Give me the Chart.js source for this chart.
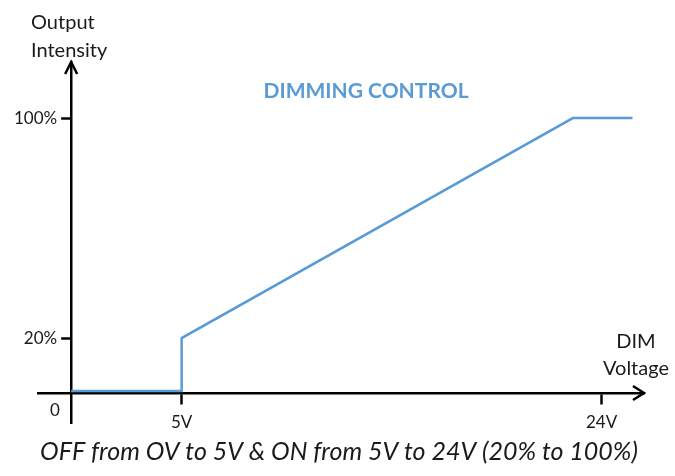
<!DOCTYPE html>
<html>
<head>
<meta charset="utf-8">
<script src="https://cdn.jsdelivr.net/npm/chart.js@4"></script>
<style>
  html, body { margin: 0; padding: 0; background: #fff; }
  #wrap { width: 675px; height: 476px; }
</style>
</head>
<body>
<div id="wrap"><canvas id="chart" width="675" height="476"></canvas></div>
<script>
// dim voltage (V) against output intensity (%)
const voltage = [0, 5, 5, 22.7, 25.4];
const intensity = [0.7, 0.7, 20, 100, 100];

const xTickValues = [5, 24];
const xTickLabels = ['5V', '24V'];
const yTickValues = [20, 100];
const yTickLabels = ['20%', '100%'];

const chartTitle = 'DIMMING CONTROL';
const yTitle = ['Output', 'Intensity'];
const xTitle = ['DIM', 'Voltage'];
const originLabel = '0';
const caption = 'OFF from OV to 5V & ON from 5V to 24V (20% to 100%)';

const blue = '#5b9bd5';
const ink = '#1a1a1a';

const points = voltage.map((v, i) => ({ x: v, y: intensity[i] }));

// move the y axis onto x = 0 so the x axis can run a little past it on the left
const yAtZero = {
    id: 'yAtZero',
    afterLayout(chart) {
        const px = chart.scales.x.getPixelForValue(0);
        chart.scales.y.left = 0;
        chart.scales.y.right = px;
    }
};

// arrows, axis titles, caption
const decor = {
    id: 'decor',
    afterDraw(chart) {
        const { ctx, chartArea, scales: { x, y } } = chart;
        const x0 = x.getPixelForValue(0);
        const y0 = y.getPixelForValue(0);
        ctx.save();
        ctx.strokeStyle = '#000';
        ctx.lineWidth = 2.5;
        ctx.beginPath();
        ctx.moveTo(x0 - 6, chartArea.top + 12);
        ctx.lineTo(x0, chartArea.top);
        ctx.lineTo(x0 + 6, chartArea.top + 12);
        ctx.moveTo(chartArea.right - 11, y0 - 7);
        ctx.lineTo(chartArea.right, y0);
        ctx.lineTo(chartArea.right - 11, y0 + 7);
        ctx.stroke();

        ctx.fillStyle = ink;
        ctx.font = '20px Lato';
        ctx.textAlign = 'left';
        ctx.textBaseline = 'alphabetic';
        ctx.fillText(yTitle[0], 31, 29);
        ctx.fillText(yTitle[1], 31, 57);
        ctx.textAlign = 'center';
        ctx.fillText(xTitle[0], 636, 348);
        ctx.fillText(xTitle[1], 636, 375);

        ctx.font = '17px Lato';
        ctx.fillText(originLabel, 55, 416);

        ctx.fillStyle = blue;
        ctx.font = 'bold 21px Lato';
        ctx.fillText(chartTitle, 366, 98);

        ctx.fillStyle = ink;
        ctx.font = 'italic 25px Lato';
        ctx.fillText(caption, 339, 460);
        ctx.restore();
    }
};

new Chart(document.getElementById('chart').getContext('2d'), {
    type: 'line',
    data: {
        datasets: [{
            data: points,
            borderColor: blue,
            borderWidth: 2.5,
            pointRadius: 0,
            fill: false,
            tension: 0
        }]
    },
    options: {
        responsive: false,
        animation: false,
        layout: { padding: { left: 38, right: 31, top: 62, bottom: 53 } },
        plugins: { legend: { display: false }, tooltip: { enabled: false } },
        scales: {
            x: {
                type: 'linear',
                min: -1.5,
                max: 25.92,
                position: { y: 0 },
                afterFit: s => { s.height = 0; },
                afterBuildTicks: s => { s.ticks = xTickValues.map(v => ({ value: v })); },
                border: { display: true, color: '#000', width: 2.5 },
                grid: { drawOnChartArea: false, drawTicks: true, tickLength: 10, tickWidth: 2.5, tickColor: '#000' },
                ticks: {
                    padding: 9,
                    color: ink,
                    font: { family: 'Lato', size: 17 },
                    callback: (v) => xTickLabels[xTickValues.indexOf(v)]
                }
            },
            y: {
                type: 'linear',
                min: -10.9,
                max: 120.4,
                position: 'left',
                afterFit: s => { s.width = 0; },
                afterBuildTicks: s => { s.ticks = yTickValues.map(v => ({ value: v })); },
                border: { display: true, color: '#000', width: 2.5 },
                grid: { drawOnChartArea: false, drawTicks: true, tickLength: 10, tickWidth: 2.5, tickColor: '#000' },
                ticks: {
                    padding: 4,
                    color: ink,
                    font: { family: 'Lato', size: 17 },
                    callback: (v) => yTickLabels[yTickValues.indexOf(v)]
                }
            }
        }
    },
    plugins: [yAtZero, decor]
});
</script>
</body>
</html>
